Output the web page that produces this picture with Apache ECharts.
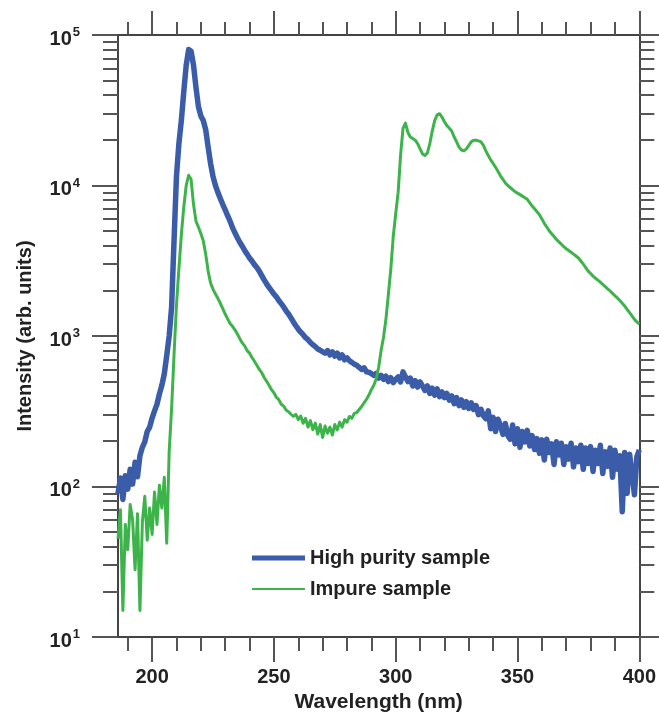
<!DOCTYPE html>
<html><head><meta charset="utf-8">
<script src="https://cdn.jsdelivr.net/npm/echarts@6/dist/echarts.min.js"></script>
<style>html,body{margin:0;padding:0;background:#fff}#c{width:659px;height:718px}</style>
</head><body><div id="c"></div>
<script>
// wavelength grid: 186 nm .. 400 nm, 1 nm steps
const wlStart = 186;
const wlMin = 186, wlMax = 400;

const highPurity = [
  90,114,82,118,96,130,104,145,116,160,            //186-195
  182,198,232,248,285,318,352,412,470,560,         //196-205
  740,1000,1550,4300,11500,19000,27000,42000,63000,80000, //206-215
  78000,63000,45000,33500,29000,27000,23500,18000,14000,11500, //216-225
  10000,9000,8200,7500,6900,6300,5800,5250,4850,4500, //226-235
  4200,3950,3700,3500,3300,3150,2980,2850,2700,2520, //236-245
  2360,2220,2100,2000,1900,1820,1720,1640,1560,1470, //246-255
  1400,1320,1240,1170,1110,1060,1020,975,945,905,   //256-265
  875,850,820,805,785,770,800,750,785,735,          //266-275
  770,715,750,695,715,685,668,650,640,618,          //276-285
  600,615,578,575,562,548,565,525,548,515,          //286-295
  540,498,528,490,515,535,495,578,535,498,          //296-305
  525,465,505,458,495,465,436,466,415,450,          //306-315
  405,445,395,425,390,415,375,400,355,390,          //316-325
  345,376,336,366,330,360,325,345,300,326,          //326-335
  295,282,318,242,288,232,280,255,222,262,          //336-345
  218,206,256,192,242,182,232,198,236,186,          //346-355
  218,176,208,166,204,150,206,168,192,140,          //356-365
  198,162,194,140,184,152,194,135,180,146,          //366-375
  188,130,180,142,184,126,174,142,188,122,          //376-385
  170,136,180,115,174,130,160,68,168,90,            //386-395
  164,122,88,158,175                                //396-400
];

const impure = [
  45,70,15,56,38,76,60,28,66,15,                    //186-195
  58,86,44,72,48,92,56,102,72,115,                  //196-205
  42,170,330,750,1600,2800,4700,7200,10000,11700,   //206-215
  11000,7500,5800,5300,4800,4300,3500,2700,2250,2050, //216-225
  1900,1780,1650,1520,1400,1300,1210,1160,1100,1030, //226-235
  960,900,860,800,770,720,680,640,600,570,          //236-245
  530,500,470,440,420,392,378,352,342,322,          //246-255
  314,302,292,302,278,294,263,284,248,274,          //256-265
  238,264,223,258,212,252,226,248,220,258,          //266-275
  238,268,248,278,268,292,284,306,310,325,          //276-285
  340,360,380,405,440,470,520,620,800,980,          //286-295
  1300,1900,2800,4600,6500,9000,16000,24000,26000,22500, //296-305
  21000,20500,20000,19000,17500,16200,15800,16500,19000,23000, //306-315
  27000,29500,30000,28500,26500,25000,24000,23000,21000,19500, //316-325
  18000,17200,17000,17500,18500,19500,20000,20000,19800,19500, //326-335
  18500,17000,15800,14800,14000,13200,12400,11600,11000,10400, //336-345
  10000,9700,9400,9100,8900,8700,8500,8300,8100,7700, //346-355
  7300,7000,6700,6400,6000,5600,5300,5000,4780,4580, //356-365
  4380,4220,4070,3920,3800,3700,3600,3500,3400,3300, //366-375
  3150,3000,2850,2700,2600,2500,2420,2350,2280,2200, //376-385
  2130,2060,1990,1920,1850,1790,1720,1650,1580,1500, //386-395
  1430,1360,1290,1240,1200                          //396-400
];

const seriesNames = ['High purity sample', 'Impure sample'];
const xMajorTicks = [200, 250, 300, 350, 400];
const xMinorTicks = [190, 210, 220, 230, 240, 260, 270, 280, 290, 310, 320, 330, 340, 360, 370, 380, 390];
const yMajorTicks = [10, 100, 1000, 10000, 100000];
const yMinorTicks = [20,30,40,50,60,70,80,90,200,300,400,500,600,700,800,900,
  2000,3000,4000,5000,6000,7000,8000,9000,20000,30000,40000,50000,60000,70000,80000,90000];

const FONT = '"Liberation Sans", Arial, Helvetica, sans-serif';
const AXIS_COLOR = '#444';
const TICK_COLOR = '#555';
const BLUE = '#3a5ca9';
const GREEN = '#3cb44a';

function xAxisDef(pos, ticks, len, withLabel) {
  return {
    type: 'value', position: pos, min: wlMin, max: wlMax,
    axisLine: { show: true, onZero: false, lineStyle: { color: AXIS_COLOR, width: 2 } },
    axisTick: { show: true, inside: false, length: len, customValues: ticks, lineStyle: { color: TICK_COLOR, width: 2 } },
    axisLabel: withLabel ? {
      show: true, customValues: xMajorTicks, margin: 30,
      fontFamily: FONT, fontWeight: 'bold', fontSize: 20, color: '#222'
    } : { show: false },
    splitLine: { show: false },
    name: withLabel ? 'Wavelength (nm)' : '',
    nameLocation: 'middle', nameGap: 55,
    nameTextStyle: { fontFamily: FONT, fontWeight: 'bold', fontSize: 21, color: '#222' }
  };
}
function yAxisDef(pos, ticks, len, withLabel) {
  return {
    type: 'log', logBase: 10, position: pos, min: 10, max: 100000,
    axisLine: { show: true, onZero: false, lineStyle: { color: AXIS_COLOR, width: 2 } },
    axisTick: { show: true, inside: false, length: len, customValues: ticks, lineStyle: { color: TICK_COLOR, width: 2 } },
    axisLabel: withLabel ? {
      show: true, customValues: yMajorTicks, margin: 38,
      formatter: function (v) { return '{b|10}{s|' + Math.round(Math.log10(v)) + '}'; },
      rich: {
        b: { fontFamily: FONT, fontWeight: 'bold', fontSize: 20, color: '#222', padding: [8, 0, 0, 0] },
        s: { fontFamily: FONT, fontWeight: 'bold', fontSize: 13, color: '#222', verticalAlign: 'top', padding: [5, 0, 0, 1] }
      }
    } : { show: false },
    splitLine: { show: false },
    minorTick: { show: false },
    name: withLabel ? 'Intensity (arb. units)' : '',
    nameLocation: 'middle', nameGap: 83, nameRotate: 90,
    nameTextStyle: { fontFamily: FONT, fontWeight: 'bold', fontSize: 20, color: '#222' }
  };
}

const chart = echarts.init(document.getElementById('c'), null, { renderer: 'canvas' });
chart.setOption({
  animation: false,
  backgroundColor: '#fff',
  grid: { left: 118, right: 19, top: 35, bottom: 81, containLabel: false },
  xAxis: [
    xAxisDef('bottom', xMajorTicks, 25, true),
    xAxisDef('bottom', xMinorTicks, 14, false),
    xAxisDef('top', xMajorTicks, 24, false),
    xAxisDef('top', xMinorTicks, 13, false)
  ],
  yAxis: [
    yAxisDef('left', yMajorTicks, 26, true),
    yAxisDef('left', yMinorTicks, 15, false),
    yAxisDef('right', yMajorTicks, 26, false),
    yAxisDef('right', yMinorTicks, 15, false)
  ],
  legend: [
    {
      data: [seriesNames[0]], left: 247, top: 543, icon: 'rect', itemWidth: 53, itemHeight: 5,
      selectedMode: false,
      textStyle: { fontFamily: FONT, fontWeight: 'bold', fontSize: 20, color: '#222' }
    },
    {
      data: [seriesNames[1]], left: 247, top: 574, icon: 'rect', itemWidth: 53, itemHeight: 2,
      selectedMode: false,
      textStyle: { fontFamily: FONT, fontWeight: 'bold', fontSize: 20, color: '#222' }
    }
  ],
  series: [
    {
      name: seriesNames[0], type: 'line', xAxisIndex: 0, yAxisIndex: 0,
      showSymbol: false, symbol: 'none', color: BLUE,
      lineStyle: { color: BLUE, width: 5.5, join: 'round' },
      data: highPurity.map(function (v, i) { return [wlStart + i, v]; })
    },
    {
      name: seriesNames[1], type: 'line', xAxisIndex: 0, yAxisIndex: 0,
      showSymbol: false, symbol: 'none', color: GREEN,
      lineStyle: { color: GREEN, width: 3, join: 'round' },
      data: impure.map(function (v, i) { return [wlStart + i, v]; })
    }
  ]
});
</script></body></html>
